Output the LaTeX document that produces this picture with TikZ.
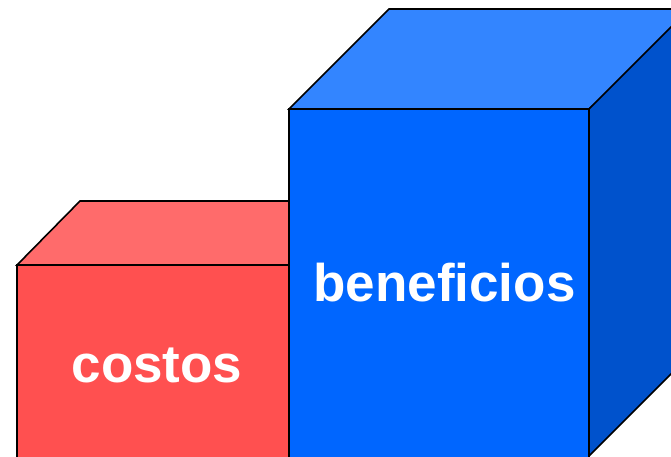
\documentclass[tikz,border=0pt]{standalone}
\usepackage{fontspec}
\setmainfont{Liberation Sans}
\definecolor{redfront}{HTML}{FF5050}
\definecolor{redtop}{HTML}{FF6B6B}
\definecolor{bluefront}{HTML}{0066FF}
\definecolor{bluetop}{HTML}{3385FF}
\definecolor{blueside}{HTML}{0052CC}
\tikzset{
  face/.style={draw=black, line width=1.6pt, line join=miter},
  label/.style={text=white, font=\bfseries\fontsize{53}{53}\selectfont, anchor=base, inner sep=0pt}
}
\begin{document}
\begin{tikzpicture}[x=1pt, y=-1pt]
\useasboundingbox (0,0) rectangle (671,456);
\clip (0,0) rectangle (671,456);
% red box
\draw[face, fill=redfront] (17,265) -- (289,265) -- (289,480) -- (17,480) -- cycle;
\draw[face, fill=redtop] (17,265) -- (80,201) -- (352,201) -- (289,265) -- cycle;
% blue box
\draw[face, fill=bluefront] (289,109) -- (589,109) -- (589,480) -- (289,480) -- cycle;
\draw[face, fill=bluetop] (289,109) -- (389,9) -- (700,9) -- (589,109) -- cycle;
\draw[face, fill=blueside] (589,109) -- (689,9) -- (689,356) -- (589,456) -- cycle;
\node[label] (costos) at (157,382) {costos};
\node[label] (beneficios) at (444.5,301) {beneficios};
\end{tikzpicture}
\end{document}
